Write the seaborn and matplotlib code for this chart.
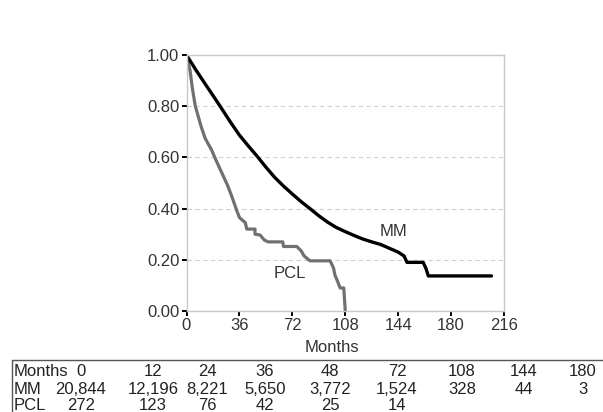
import matplotlib
matplotlib.use("Agg")
import matplotlib.pyplot as plt
from matplotlib.lines import Line2D
import seaborn as sns
import pandas as pd

# ---- data ----
mm_months = [0, 6, 12, 18, 24, 30, 36, 42, 48, 54, 60, 66, 72, 78, 84, 90, 96,
             102, 108, 114, 120, 126, 132, 138, 144, 148, 150, 161, 163, 164.5, 207.5]
mm_surv = [1.00, 0.945, 0.893, 0.842, 0.79, 0.737, 0.687, 0.645, 0.605, 0.562, 0.522,
           0.488, 0.457, 0.427, 0.40, 0.372, 0.347, 0.326, 0.31, 0.295, 0.281,
           0.27, 0.26, 0.245, 0.23, 0.215, 0.19, 0.19, 0.165, 0.137, 0.137]

pcl_months = [0, 1, 2.4, 4, 6, 8, 10, 12.6, 15, 17, 20, 24, 28, 31, 34, 36, 38, 40,
              41, 46.6, 46.6, 50, 53, 55.5, 65.5, 66, 75, 78, 80, 84, 97.7, 100,
              101, 102.5, 104.5, 107, 108]
pcl_surv = [1.00, 0.975, 0.94, 0.87, 0.80, 0.76, 0.72, 0.676, 0.65, 0.63, 0.59,
            0.54, 0.49, 0.445, 0.395, 0.365, 0.355, 0.345, 0.32, 0.32, 0.30,
            0.297, 0.277, 0.27, 0.27, 0.252, 0.252, 0.235, 0.215, 0.196, 0.196,
            0.168, 0.14, 0.12, 0.09, 0.09, 0.0]

x_ticks = [0, 36, 72, 108, 144, 180, 216]
y_ticks = [0.0, 0.2, 0.4, 0.6, 0.8, 1.0]

table_months = ["0", "12", "24", "36", "48", "72", "108", "144", "180"]
mm_at_risk = ["20,844", "12,196", "8,221", "5,650", "3,772", "1,524", "328", "44", "3"]
pcl_at_risk = ["272", "123", "76", "42", "25", "14"]

# ---- style ----
sns.set_theme(style="white")
plt.rcParams["font.family"] = ["Liberation Sans Narrow", "Liberation Sans", "DejaVu Sans"]

W, H = 603, 412
fig = plt.figure(figsize=(W / 100, H / 100), dpi=100)
ax = fig.add_axes([186.5 / W, 1 - 311 / H, (504 - 186.5) / W, 256 / H])

mm_df = pd.DataFrame({"Months": mm_months, "S": mm_surv})
pcl_df = pd.DataFrame({"Months": pcl_months, "S": pcl_surv})

sns.lineplot(data=pcl_df, x="Months", y="S", ax=ax, color="#707070",
             linewidth=2.3, estimator=None, sort=False)
sns.lineplot(data=mm_df, x="Months", y="S", ax=ax, color="black",
             linewidth=2.4, estimator=None, sort=False)

ax.set_xlim(0, 216)
ax.set_ylim(0, 1.0)
ax.set_xticks(x_ticks)
ax.set_xticklabels([str(t) for t in x_ticks])
ax.set_yticks(y_ticks)
ax.set_yticklabels([f"{t:.2f}" for t in y_ticks])
ax.yaxis.grid(True, linestyle=(0, (4, 3)), color="#cfcfcf", linewidth=0.8)
ax.xaxis.grid(False)
for s in ax.spines.values():
    s.set_color("#c8c8c8")
    s.set_linewidth(1.0)
ax.tick_params(axis="both", colors="black", length=3.6, width=1.4,
               labelsize=12, labelcolor="#333333", pad=1.5)
ax.tick_params(axis="both", which="both", direction="out", bottom=True, left=True)
ax.set_ylabel("")
ax.set_xlabel("Months", fontsize=12, color="#333333", labelpad=1)
ax.xaxis.set_label_coords((332 - 186.5) / (504 - 186.5), -0.115)

ax.text(140.7, 0.309, "MM", fontsize=12, color="#333333", ha="center", va="center")
ax.text(70.5, 0.148, "PCL", fontsize=12, color="#333333", ha="center", va="center")

# ---- number at risk table ----
fig.add_artist(Line2D([12 / W, 1.0], [1 - 360 / H, 1 - 360 / H],
                      color="#555555", linewidth=1.0, transform=fig.transFigure))
fig.add_artist(Line2D([12 / W, 12 / W], [1 - 360 / H, 0.0],
                      color="#555555", linewidth=1.0, transform=fig.transFigure))

col_x = [81, 153, 207, 265, 330, 397, 462, 524, 583]
rows = [("Months", table_months, 372), ("MM", mm_at_risk, 389), ("PCL", pcl_at_risk, 405)]
for label, vals, yp in rows:
    fig.text(14 / W, 1 - yp / H, label, fontsize=12, color="#222222",
             ha="left", va="center")
    for cx, v in zip(col_x, vals):
        fig.text(cx / W, 1 - yp / H, v, fontsize=12, color="#222222",
                 ha="center", va="center")

fig.savefig("out.png", dpi=100)
